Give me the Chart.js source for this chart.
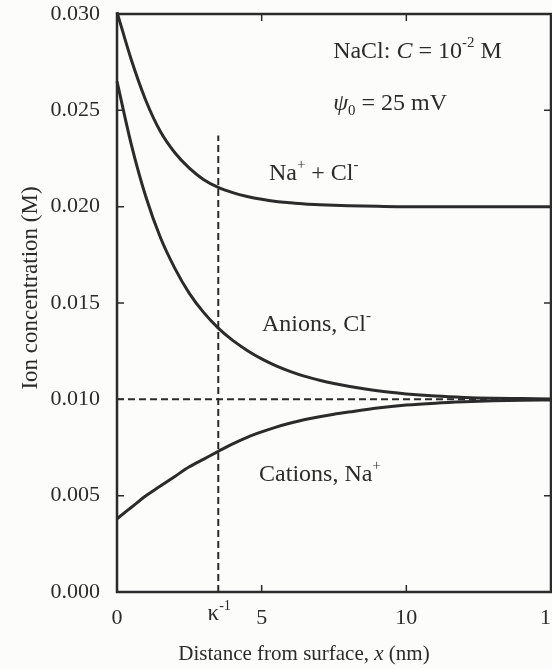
<!DOCTYPE html>
<html>
<head>
<meta charset="utf-8">
<script src="https://cdn.jsdelivr.net/npm/chart.js@4.4.0/dist/chart.umd.min.js"></script>
<style>
  html, body { margin: 0; padding: 0; background: #fcfcfb; }
  #wrap { width: 552px; height: 669px; position: relative; }
</style>
</head>
<body>
<div id="wrap"><canvas id="chart"></canvas></div>
<script>
// ---- data ----
const DISTANCE = [0, 0.5, 1, 1.5, 2, 2.5, 3, 3.5, 4, 4.5, 5, 5.5, 6, 6.5, 7, 7.5, 8, 9, 10, 11, 12, 13, 14, 15];
const TOTAL    = [0.0301, 0.0276, 0.0255, 0.0239, 0.0228, 0.0220, 0.0214, 0.0210, 0.02073, 0.02053, 0.02038,
                  0.02027, 0.0202, 0.02014, 0.0201, 0.02007, 0.02005, 0.02002, 0.0200, 0.0200, 0.0200,
                  0.0200, 0.0200, 0.0200];
const ANIONS   = [0.0265, 0.0232, 0.0205, 0.0184, 0.0168, 0.0155, 0.0145, 0.0137, 0.01306, 0.01254, 0.0121,
                  0.01174, 0.01144, 0.01119, 0.01099, 0.01082, 0.01068, 0.01044, 0.01028, 0.01017, 0.0101,
                  0.01006, 0.01004, 0.01002];
const CATIONS  = [0.0038, 0.0044, 0.0050, 0.0055, 0.0060, 0.0065, 0.0069, 0.0073, 0.00769, 0.00803, 0.00831,
                  0.00856, 0.00877, 0.00895, 0.0091, 0.00923, 0.00934, 0.00955, 0.0097, 0.0098, 0.00987,
                  0.00992, 0.00995, 0.00997];

const X_TICKS = [0, 5, 10, 15];
const Y_TICKS = [0.000, 0.005, 0.010, 0.015, 0.020, 0.025, 0.030];
const BULK_C = 0.010;          // horizontal dashed reference
const KAPPA_INV = 3.5;         // Debye length marker (nm)
const KAPPA_LINE_TOP = 0.0237;

const INK = '#2b2b2b';
const SERIF = '"Liberation Serif", "DejaVu Serif", serif';

// annotation anchors in data units (left edge, baseline)
const NOTES = [
  { x: 7.47, y: 0.02772, parts: [['NaCl: '], ['C', 'i'], [' = 10'], ['-2', 'sup'], [' M']] },
  { x: 7.47, y: 0.02502, parts: [['ψ', 'i'], ['0', 'sub'], [' = 25 mV']] },
  { x: 5.25, y: 0.02140, parts: [['Na'], ['+', 'sup'], [' + Cl'], ['-', 'sup']] },
  { x: 5.01, y: 0.01355, parts: [['Anions, Cl'], ['-', 'sup']] },
  { x: 4.91, y: 0.00578, parts: [['Cations, Na'], ['+', 'sup']] },
];

function xy(xs, ys) { return xs.map((x, i) => ({ x, y: ys[i] })); }

function drawRich(ctx, x, y, parts, size) {
  ctx.textAlign = 'left';
  ctx.textBaseline = 'alphabetic';
  parts.forEach(([t, style]) => {
    let fs = size, dy = 0, it = false;
    if (style === 'sup') { fs = size * 0.62; dy = -size * 0.45; }
    if (style === 'sub') { fs = size * 0.62; dy = size * 0.22; }
    if (style === 'i') it = true;
    ctx.font = `${it ? 'italic ' : ''}${fs}px ${SERIF}`;
    ctx.fillText(t, x, y + dy);
    x += ctx.measureText(t).width;
  });
  return x;
}

function richWidth(ctx, parts, size) {
  let w = 0;
  parts.forEach(([t, style]) => {
    const fs = (style === 'sup' || style === 'sub') ? size * 0.62 : size;
    ctx.font = `${style === 'i' ? 'italic ' : ''}${fs}px ${SERIF}`;
    w += ctx.measureText(t).width;
  });
  return w;
}

const framePlugin = {
  id: 'frame',
  afterDraw(chart) {
    const { ctx, chartArea: a, scales: { x, y } } = chart;
    ctx.save();
    ctx.strokeStyle = INK;
    ctx.fillStyle = INK;

    // box
    ctx.lineWidth = 2.5;
    ctx.strokeRect(a.left, a.top, a.right - a.left, a.bottom - a.top);

    // inward ticks on all four sides
    ctx.lineWidth = 1.5;
    const tl = 7;
    ctx.beginPath();
    Y_TICKS.slice(1, -1).forEach(v => {
      const py = y.getPixelForValue(v);
      ctx.moveTo(a.left, py); ctx.lineTo(a.left + tl, py);
      ctx.moveTo(a.right, py); ctx.lineTo(a.right - tl, py);
    });
    X_TICKS.slice(1, -1).forEach(v => {
      const px = x.getPixelForValue(v);
      ctx.moveTo(px, a.bottom); ctx.lineTo(px, a.bottom - tl);
      ctx.moveTo(px, a.top); ctx.lineTo(px, a.top + tl);
    });
    ctx.stroke();

    // annotations
    NOTES.forEach(n => drawRich(ctx, x.getPixelForValue(n.x), y.getPixelForValue(n.y), n.parts, 24));

    // kappa^-1 tick label
    const kParts = [['κ'], ['-1', 'sup']];
    const kw = richWidth(ctx, kParts, 23);
    drawRich(ctx, x.getPixelForValue(KAPPA_INV) - kw / 2 + 1, 620, kParts, 23);

    // x title
    const xt = [['Distance from surface, '], ['x', 'i'], [' (nm)']];
    drawRich(ctx, 304 - richWidth(ctx, xt, 21) / 2, 660, xt, 21);

    // y title (rotated)
    ctx.translate(37, 288);
    ctx.rotate(-Math.PI / 2);
    const yt = [['Ion concentration (M)']];
    drawRich(ctx, -richWidth(ctx, yt, 23) / 2, 0, yt, 23);
    ctx.restore();
  }
};

const curve = (data) => ({
  data, borderColor: INK, borderWidth: 3, pointRadius: 0,
  cubicInterpolationMode: 'monotone', clip: 6,
});
const dashed = (data) => ({
  data, borderColor: INK, borderWidth: 2, borderDash: [7, 4], pointRadius: 0, tension: 0, clip: 6,
});

const noPad = s => { s.paddingLeft = 0; s.paddingRight = 0; s.paddingTop = 0; s.paddingBottom = 0; };

new Chart(document.getElementById('chart'), {
  type: 'line',
  data: {
    datasets: [
      dashed([{ x: 0, y: BULK_C }, { x: 15, y: BULK_C }]),
      dashed([{ x: KAPPA_INV, y: 0 }, { x: KAPPA_INV, y: KAPPA_LINE_TOP }]),
      curve(xy(DISTANCE, TOTAL)),
      curve(xy(DISTANCE, ANIONS)),
      curve(xy(DISTANCE, CATIONS)),
    ]
  },
  options: {
    responsive: true,
    maintainAspectRatio: false,
    animation: false,
    events: [],
    layout: { autoPadding: false, padding: { top: 14, right: 1, left: 0, bottom: 0 } },
    plugins: { legend: { display: false }, tooltip: { enabled: false } },
    scales: {
      x: {
        type: 'linear', min: 0, max: 15,
        afterFit: s => { s.height = 77; noPad(s); },
        afterBuildTicks: s => { s.ticks = X_TICKS.map(v => ({ value: v })); },
        grid: { display: false },
        border: { display: false },
        ticks: { color: INK, padding: 5, maxRotation: 0, font: { family: SERIF, size: 22 } },
      },
      y: {
        type: 'linear', min: 0, max: 0.03,
        afterFit: s => { s.width = 117; noPad(s); },
        afterBuildTicks: s => { s.ticks = Y_TICKS.map(v => ({ value: v })); },
        grid: { display: false },
        border: { display: false },
        ticks: { color: INK, padding: 9, font: { family: SERIF, size: 22 }, callback: v => v.toFixed(3) },
      }
    }
  },
  plugins: [framePlugin]
});
</script>
</body>
</html>
